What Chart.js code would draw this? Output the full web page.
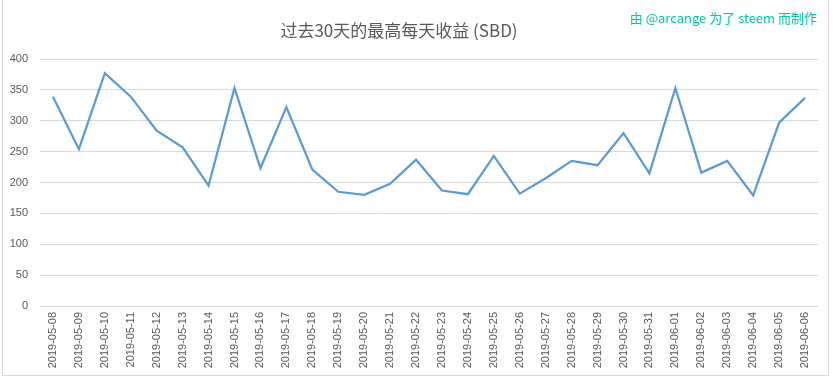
<!DOCTYPE html>
<html>
<head>
<meta charset="utf-8">
<script src="https://cdn.jsdelivr.net/npm/chart.js@4"></script>
<style>
    body { margin: 0; background: #fff; }
    #wrap { position: relative; width: 833px; height: 379px; }
    #frame {
        position: absolute; left: 2px; top: -1px; width: 825px; height: 376px;
        border: 1px solid #d9d9d9; border-top: none; pointer-events: none;
    }
    #title {
        position: absolute; left: 0; width: 798px; top: 19px; text-align: center;
        font-family: "Noto Sans CJK SC", sans-serif; font-size: 17px; line-height: 22px; color: #595959;
    }
    #credit {
        position: absolute; right: 16px; top: 9px;
        font-family: "Noto Sans CJK SC", sans-serif; font-size: 13px; line-height: 17px; color: #00c99a;
    }
</style>
</head>
<body>
<div id="wrap">
    <canvas id="chart" width="833" height="379"></canvas>
    <div id="title">过去30天的最高每天收益 (SBD)</div>
    <div id="credit">由 @arcange 为了 steem 而制作</div>
    <div id="frame"></div>
</div>
<script>
const dates = [
    "2019-05-08", "2019-05-09", "2019-05-10", "2019-05-11", "2019-05-12", "2019-05-13",
    "2019-05-14", "2019-05-15", "2019-05-16", "2019-05-17", "2019-05-18", "2019-05-19",
    "2019-05-20", "2019-05-21", "2019-05-22", "2019-05-23", "2019-05-24", "2019-05-25",
    "2019-05-26", "2019-05-27", "2019-05-28", "2019-05-29", "2019-05-30", "2019-05-31",
    "2019-06-01", "2019-06-02", "2019-06-03", "2019-06-04", "2019-06-05", "2019-06-06"
];
const maxPayout = [
    339, 254, 377, 339, 284, 257,
    195, 353, 223, 322, 221, 185,
    180, 198, 237, 187, 181, 243,
    182, 207, 235, 228, 280, 215,
    353, 216, 235, 179, 297, 337
];
const yTicks = [0, 50, 100, 150, 200, 250, 300, 350, 400];

const labelColor = "#595959";
const gridColor = "#d9d9d9";

new Chart(document.getElementById("chart"), {
    type: "line",
    data: {
        labels: dates,
        datasets: [{
            data: maxPayout,
            borderColor: "#5b9bd5",
            borderWidth: 2.25,
            pointRadius: 0,
            tension: 0,
            fill: false,
        }],
    },
    options: {
        responsive: false,
        animation: false,
        layout: { padding: { top: 59, right: 15, bottom: 3, left: 0 } },
        plugins: {
            legend: { display: false },
            title: { display: false },
            tooltip: { enabled: false },
        },
        scales: {
            x: {
                offset: true,
                grid: { display: false, drawTicks: false },
                border: { display: false },
                ticks: {
                    color: labelColor,
                    font: { family: "Liberation Sans", size: 11 },
                    maxRotation: 90,
                    minRotation: 90,
                    autoSkip: false,
                    padding: 6,
                },
                afterFit: (scale) => { scale.height = 70; },
            },
            y: {
                min: 0,
                max: 400,
                afterBuildTicks: (scale) => { scale.ticks = yTicks.map((v) => ({ value: v })); },
                grid: { color: gridColor, drawTicks: false },
                border: { display: false },
                ticks: {
                    color: labelColor,
                    font: { family: "Liberation Sans", size: 11 },
                    padding: 12,
                },
                afterFit: (scale) => { scale.width = 40; },
            },
        },
    },
});
</script>
</body>
</html>
